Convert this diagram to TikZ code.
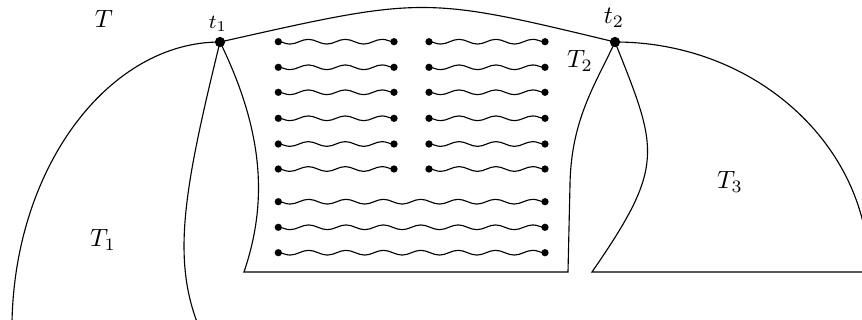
\documentclass[tikz,border=0pt]{standalone}
\usetikzlibrary{decorations.pathmorphing}
\begin{document}
\begin{tikzpicture}[x=0.40pt,y=-0.40pt,
  bigdot/.style={circle,fill,inner sep=0pt,minimum size=4.1pt},
  smalldot/.style={circle,fill,inner sep=0pt,minimum size=2.9pt},
  lbl/.style={inner sep=0pt},
  wave/.style={decorate,decoration={snake,mirror,amplitude=0.95pt,segment length=#1}},
  edge/.style={line width=0.45pt}
]
\useasboundingbox (0,0) rectangle (862,320);
\clip (0,0) rectangle (862,320);

% junction points
\node[bigdot] (t1) at (220,42) {};
\node[bigdot] (t2) at (615,42) {};

% corner coordinates
\coordinate (L1) at (12,322);
\coordinate (L2) at (197,322);
\coordinate (M1) at (244,272);
\coordinate (M2) at (568,272);
\coordinate (M3) at (570,185);
\coordinate (R1) at (592,272);
\coordinate (R2) at (875,272);
\coordinate (R3) at (869,272);

% boundaries
\draw[edge] (t1.center) .. controls (424,-4) and (424,-4) .. (t2.center);
\draw[edge] (t1.center) .. controls (110,42) and (15,165) .. (L1);
\draw[edge] (t1.center) .. controls (185,185) and (172,255) .. (L2);
\draw[edge] (t1.center) .. controls (268,140) and (265,210) .. (M1) -- (M2) -- (M3)
      .. controls (571,120) and (595,85) .. (t2.center);
\draw[edge] (t2.center) .. controls (658,150) and (666,165) .. (R1) -- (R2);
\draw[edge] (t2.center) .. controls (755,42) and (869,145) .. (R3);

% short wavy rows
\foreach \yy [count=\i] in {41.7,67.3,92.3,118.3,144,169} {
  \node[smalldot] (a\i) at (278.3,\yy) {};
  \node[smalldot] (b\i) at (394,\yy) {};
  \node[smalldot] (c\i) at (429,\yy) {};
  \node[smalldot] (d\i) at (545,\yy) {};
  \draw[edge,wave=14.78pt] (a\i.center) -- (b\i.center);
  \draw[edge,wave=14.78pt] (c\i.center) -- (d\i.center);
}
% long wavy rows
\foreach \yy [count=\i] in {201.7,227.3,252.7} {
  \node[smalldot] (e\i) at (278.3,\yy) {};
  \node[smalldot] (f\i) at (545,\yy) {};
  \draw[edge,wave=14.95pt] (e\i.center) -- (f\i.center);
}

% labels
\node[lbl] (lT) at (104,18.5) {$T$};
\node[lbl] (lt1) at (218,24) {\footnotesize $t_1$};
\node[lbl] (lt2) at (614,17.5) {$t_2$};
\node[lbl] (lT1) at (103,240) {$T_1$};
\node[lbl] (lT2) at (580,61) {$T_2$};
\node[lbl] (lT3) at (730,182) {$T_3$};
\end{tikzpicture}
\end{document}
